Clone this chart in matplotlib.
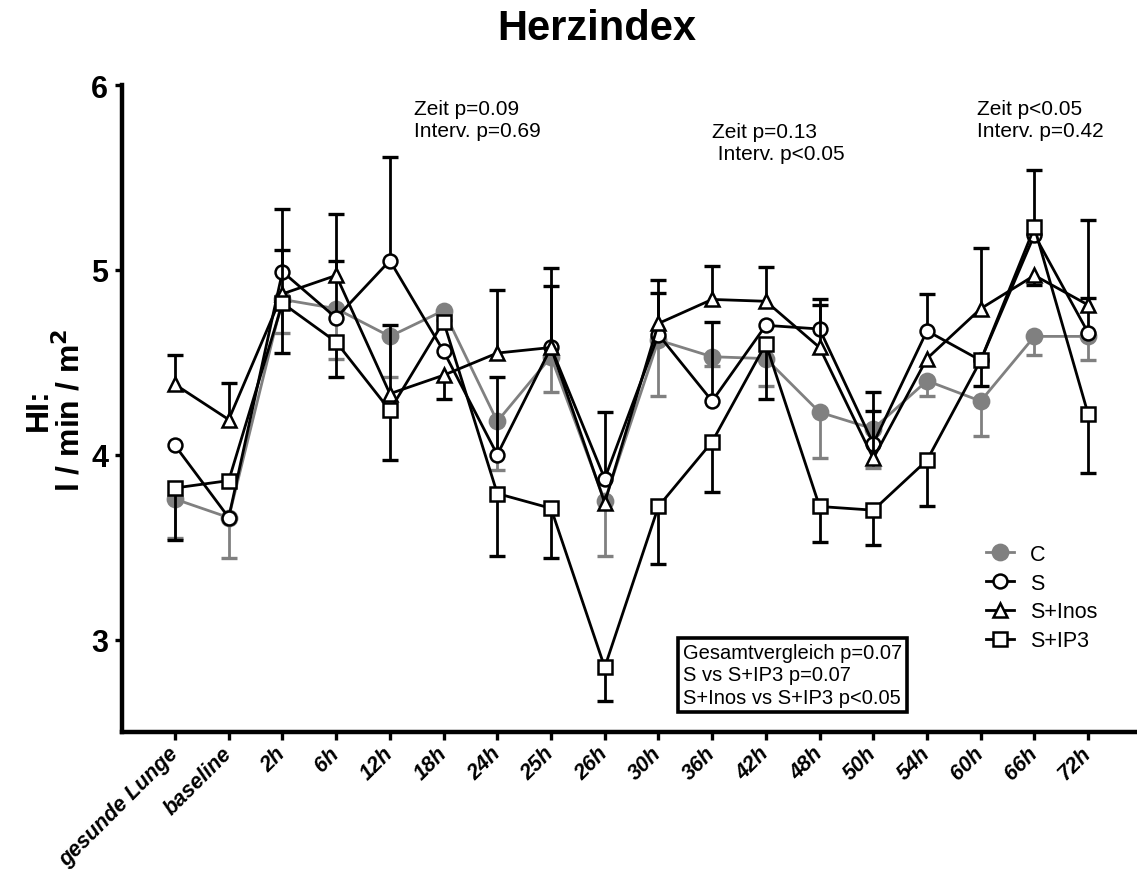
import matplotlib
matplotlib.use('Agg')
import matplotlib.pyplot as plt
import numpy as np
from matplotlib.lines import Line2D

plt.rcParams['font.family'] = ['Liberation Sans', 'DejaVu Sans']

W, H = 1137, 870

categories = ['gesunde Lunge', 'baseline', '2h', '6h', '12h', '18h', '24h', '25h', '26h',
              '30h', '36h', '42h', '48h', '50h', '54h', '60h', '66h', '72h']

# mean values
c_vals = [3.76, 3.66, 4.84, 4.79, 4.64, 4.78, 4.18, 4.53, 3.75, 4.62, 4.53, 4.52, 4.23, 4.14, 4.40, 4.29, 4.64, 4.64]
s_vals = [4.05, 3.66, 4.99, 4.74, 5.05, 4.56, 4.00, 4.58, 3.87, 4.65, 4.29, 4.70, 4.68, 4.06, 4.67, 4.51, 5.19, 4.66]
inos_vals = [4.38, 4.19, 4.87, 4.97, 4.33, 4.43, 4.55, 4.58, 3.74, 4.71, 4.84, 4.83, 4.58, 3.98, 4.52, 4.79, 4.97, 4.81]
ip3_vals = [3.82, 3.86, 4.82, 4.61, 4.24, 4.72, 3.79, 3.71, 2.85, 3.72, 4.07, 4.60, 3.72, 3.70, 3.97, 4.51, 5.23, 4.22]

# one-sided SEM (positive = drawn upward, negative = drawn downward, 0 = none)
c_err = [-0.21, -0.22, -0.18, -0.27, -0.22, -0.05, -0.26, -0.19, -0.30, -0.30, -0.05, -0.15, -0.25, -0.21, -0.08, -0.19, -0.10, -0.13]
s_err = [0, 0, 0.34, 0.56, 0.56, 0, 0.42, 0.43, 0.36, 0.225, 0.43, 0, 0.16, 0.28, 0.20, 0, 0, 0.61]
inos_err = [0.16, 0.20, 0.24, 0.08, 0.37, -0.13, 0.34, 0.33, 0, 0.235, 0.18, 0.185, 0.23, 0.255, 0, 0.33, -0.05, 0.04]
ip3_err = [-0.28, 0, -0.27, -0.19, -0.27, 0, -0.34, -0.27, -0.18, -0.31, -0.27, -0.30, -0.19, -0.19, -0.25, -0.14, 0.31, -0.32]

series_names = ['C', 'S', 'S+Inos', 'S+IP3']

fig = plt.figure(figsize=(W / 100, H / 100), dpi=100)
ax = fig.add_axes([122 / W, 1 - 733 / H, (W - 122) / W, (733 - 86) / H])

x = np.arange(len(categories))
grey = '#808080'

styles = [
    dict(vals=c_vals, err=c_err, color=grey, marker='o', mfc=grey, ms=11, z=2),
    dict(vals=s_vals, err=s_err, color='black', marker='o', mfc='white', ms=10, z=4),
    dict(vals=inos_vals, err=inos_err, color='black', marker='^', mfc='white', ms=10.5, z=5),
    dict(vals=ip3_vals, err=ip3_err, color='black', marker='s', mfc='white', ms=10, z=6),
]

handles = []
for st, name in zip(styles, series_names):
    v = np.array(st['vals'])
    e = np.array(st['err'])
    m = e != 0
    ax.vlines(x[m], v[m], v[m] + e[m], color=st['color'], lw=2.0, zorder=st['z'] - 0.5)
    ax.plot(x[m], v[m] + e[m], ls='none', marker='_', ms=12, mew=2.4,
            color=st['color'], zorder=st['z'] - 0.5)
    ln, = ax.plot(x, v, color=st['color'], lw=2.0, marker=st['marker'], ms=st['ms'],
                  mfc=st['mfc'], mec=st['color'], mew=1.8, zorder=st['z'], label=name)
    handles.append(ln)

ax.set_xlim(-0.987, 17.91)
ax.set_ylim(2.5, 6)
ax.set_yticks([3, 4, 5, 6])
ax.set_yticklabels(['3', '4', '5', '6'], fontsize=22, fontweight='bold')
ax.set_xticks(x)
ax.set_xticklabels(categories, rotation=45, ha='right', va='center', rotation_mode='anchor',
                   fontsize=15.5, fontweight='bold', fontstyle='italic')

for s in ['top', 'right']:
    ax.spines[s].set_visible(False)
for s in ['left', 'bottom']:
    ax.spines[s].set_linewidth(3.2)
ax.tick_params(axis='y', length=5, width=2.4, pad=5)
ax.tick_params(axis='x', length=6, width=2.4, pad=7)

fig.text(597 / W, 1 - 29 / H, 'Herzindex', ha='center', va='center', fontsize=30, fontweight='bold')
fig.text(55 / W, 1 - 410 / H, 'HI:\nl / min / m$^\\mathbf{2}$', rotation=90, ha='center', va='center',
         fontsize=23, fontweight='bold', multialignment='center', linespacing=1.0)

fig.text(414 / W, 1 - 100 / H, 'Zeit p=0.09\nInterv. p=0.69', ha='left', va='top', fontsize=15)
fig.text(712 / W, 1 - 123 / H, 'Zeit p=0.13\n Interv. p<0.05', ha='left', va='top', fontsize=15)
fig.text(977 / W, 1 - 100 / H, 'Zeit p<0.05\nInterv. p=0.42', ha='left', va='top', fontsize=15)

fig.text(683 / W, 1 - 676 / H, 'Gesamtvergleich p=0.07\nS vs S+IP3 p=0.07\nS+Inos vs S+IP3 p<0.05',
         ha='left', va='center', fontsize=14.5, linespacing=1.25,
         bbox=dict(boxstyle='square,pad=0.25', fc='white', ec='black', lw=2.6))

leg = fig.legend(handles=handles, labels=series_names, loc='upper left',
                 bbox_to_anchor=(986 / W, 1 - 545 / H), frameon=False, fontsize=15.5,
                 handlelength=1.3, handletextpad=0.75, labelspacing=0.36,
                 borderpad=0, borderaxespad=0)

fig.savefig('out.png', dpi=100)
